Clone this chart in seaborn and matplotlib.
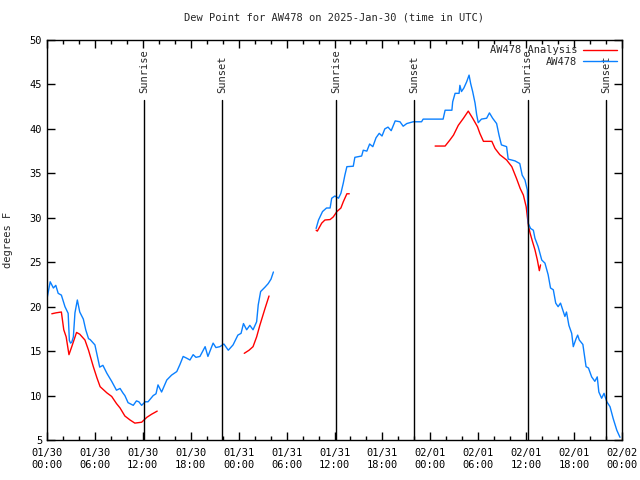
import numpy as np
import pandas as pd
import matplotlib
matplotlib.use("Agg")
import matplotlib.pyplot as plt
import matplotlib.dates as mdates
from matplotlib.lines import Line2D
import seaborn as sns

# ---------------- data (hours since 2025-01-30 00:00 UTC, dew point in F) ----------------
obs_seg1_hours = [0.0, 0.4, 0.8, 1.1, 1.4, 1.8, 2.25, 2.65, 2.8, 2.95, 3.1, 3.3, 3.5, 3.8, 4.1,
                  4.55, 4.85, 5.2, 5.4, 6.0, 6.6, 7.0, 7.5, 8.1, 8.7, 9.15, 9.5, 9.75, 10.15,
                  10.8, 11.2, 11.5, 11.85, 12.3, 12.65, 13.3, 13.65, 13.9, 14.35, 15.0, 15.6,
                  16.25, 16.65, 17.05, 17.5, 17.9, 18.3, 18.65, 19.15, 19.8, 20.15, 20.8,
                  21.15, 21.65, 22.15, 22.7, 23.3, 23.9, 24.3, 24.6, 25.0, 25.4, 25.8, 26.25,
                  26.45, 26.75, 27.3, 27.7, 28.05, 28.35]
obs_seg1_vals = [20.9, 22.8, 22.1, 22.4, 21.5, 21.3, 20.0, 19.25, 16.2, 15.9, 16.0, 16.6, 19.3,
                 20.75, 19.4, 18.6, 17.4, 16.4, 16.3, 15.7, 13.2, 13.4, 12.5, 11.6, 10.6, 10.8,
                 10.3, 10.0, 9.2, 8.9, 9.4, 9.3, 8.9, 9.3, 9.3, 10.0, 10.2, 11.2, 10.4, 11.75,
                 12.3, 12.7, 13.5, 14.4, 14.2, 14.0, 14.6, 14.3, 14.4, 15.5, 14.4, 15.9, 15.4,
                 15.5, 15.8, 15.1, 15.7, 16.8, 17.0, 18.1, 17.4, 17.9, 17.4, 18.3, 20.2, 21.7,
                 22.2, 22.6, 23.1, 23.9]
obs_seg2_hours = [33.7, 34.0, 34.5, 35.0, 35.45, 35.65, 36.05, 36.5, 36.8, 37.1, 37.3, 37.55,
                  38.35, 38.55, 39.4, 39.6, 40.05, 40.4, 40.8, 41.2, 41.6, 41.95, 42.3, 42.7,
                  43.1, 43.6, 44.2, 44.6, 45.05, 45.85, 46.9, 47.1, 49.6, 49.85, 50.7, 50.8,
                  51.1, 51.6, 51.7, 51.9, 52.2, 52.55, 52.85, 53.05, 53.3, 53.6, 53.8, 54.0,
                  54.4, 55.05, 55.4, 55.8, 56.3, 56.6, 56.9, 57.55, 57.75, 58.6, 59.2, 59.5,
                  59.85, 60.15, 60.25, 60.55, 60.9, 61.1, 61.5, 61.95, 62.35, 62.75, 63.05,
                  63.4, 63.7, 64.0, 64.3, 64.85, 65.05, 65.35, 65.7, 65.9, 66.25, 66.45, 66.65,
                  67.1, 67.5, 67.8, 68.2, 68.6, 68.9, 69.1, 69.45, 69.75, 70.1, 70.5, 70.9,
                  71.35, 71.75]
obs_seg2_vals = [28.8, 29.75, 30.7, 31.1, 31.1, 32.2, 32.45, 32.2, 32.75, 33.9, 34.8, 35.75,
                 35.8, 36.8, 36.95, 37.6, 37.5, 38.3, 38.0, 39.0, 39.5, 39.2, 40.0, 40.2, 39.8,
                 40.9, 40.8, 40.3, 40.6, 40.8, 40.8, 41.1, 41.1, 42.1, 42.1, 43.05, 44.0, 44.0,
                 44.9, 44.2, 44.6, 45.3, 46.05, 45.1, 44.2, 42.9, 41.6, 40.7, 41.1, 41.2, 41.8,
                 41.2, 40.6, 39.3, 38.2, 38.0, 36.6, 36.4, 36.1, 34.8, 34.25, 33.1, 29.4, 28.8,
                 28.6, 27.7, 26.75, 25.25, 24.9, 23.6, 22.1, 21.9, 20.4, 20.0, 20.4, 18.9, 19.4,
                 17.9, 17.0, 15.5, 16.4, 16.8, 16.25, 15.75, 13.25, 13.1, 12.1, 11.6, 12.1, 10.4,
                 9.7, 10.25, 9.3, 8.75, 7.4, 6.1, 5.3]

ana_seg1_hours = [0.6, 1.1, 1.8, 2.1, 2.4, 2.75, 3.1, 3.7, 4.1, 4.75, 5.2, 5.8, 6.25, 6.65,
                  7.5, 8.1, 8.7, 9.15, 9.75, 10.4, 11.0, 11.85, 12.5, 13.1, 13.8]
ana_seg1_vals = [19.2, 19.3, 19.4, 17.4, 16.6, 14.6, 15.5, 17.1, 16.9, 16.25, 15.1, 13.25,
                 12.0, 11.0, 10.3, 9.9, 9.1, 8.6, 7.7, 7.25, 6.9, 7.0, 7.55, 7.9, 8.25]
ana_seg2_hours = [24.7, 25.3, 25.8, 26.25, 26.65, 27.3, 27.8]
ana_seg2_vals = [14.75, 15.1, 15.5, 16.6, 17.9, 19.8, 21.2]
ana_seg3_hours = [33.7, 33.85, 34.4, 34.8, 35.45, 35.85, 36.3, 36.8, 37.1, 37.55, 37.85]
ana_seg3_vals = [28.6, 28.5, 29.4, 29.75, 29.8, 30.1, 30.7, 31.1, 31.8, 32.7, 32.7]
ana_seg4_hours = [48.6, 49.85, 50.45, 50.9, 51.5, 52.15, 52.75, 53.3, 53.9, 54.2, 54.65, 55.7,
                  56.1, 56.7, 57.55, 58.2, 58.8, 59.25, 59.65, 60.0, 60.15, 60.3, 60.5, 60.8,
                  61.1, 61.4, 61.65, 61.8]
ana_seg4_vals = [38.07, 38.07, 38.75, 39.3, 40.4, 41.2, 42.0, 41.2, 40.25, 39.5, 38.6, 38.6,
                 37.8, 37.1, 36.5, 35.75, 34.4, 33.3, 32.55, 31.25, 30.1, 29.0, 28.25, 27.3,
                 26.4, 25.25, 24.05, 24.7]

sun_labels = ["Sunrise", "Sunset", "Sunrise", "Sunset", "Sunrise", "Sunset"]
sun_hours = [12.18, 21.97, 36.17, 45.98, 60.17, 70.03]

series_names = ["AW478 Analysis", "AW478"]
series_colors = ["#ff0000", "#0a80ff"]
title_text = "Dew Point for AW478 on 2025-Jan-30 (time in UTC)"
ylabel_text = "degrees F"
y_ticks = [5, 10, 15, 20, 25, 30, 35, 40, 45, 50]

# ---------------- build table ----------------
start = pd.Timestamp("2025-01-30 00:00")
rows = []
def add(name, seg, hrs, vals):
    for h, v in zip(hrs, vals):
        rows.append({"series": name, "seg": f"{name}-{seg}",
                     "time": start + pd.Timedelta(hours=h), "dew": v})
add("AW478 Analysis", 1, ana_seg1_hours, ana_seg1_vals)
add("AW478 Analysis", 2, ana_seg2_hours, ana_seg2_vals)
add("AW478 Analysis", 3, ana_seg3_hours, ana_seg3_vals)
add("AW478 Analysis", 4, ana_seg4_hours, ana_seg4_vals)
add("AW478", 1, obs_seg1_hours, obs_seg1_vals)
add("AW478", 2, obs_seg2_hours, obs_seg2_vals)
df = pd.DataFrame(rows)

# ---------------- plot ----------------
sns.set_style("ticks")
plt.rcParams["font.family"] = ["DejaVu Sans Mono"]
plt.rcParams["font.size"] = 7.5

fig = plt.figure(figsize=(6.4, 4.8), dpi=100)
ax = fig.add_axes([47 / 640, 1 - 440 / 480, 575 / 640, 400 / 480])

for name, col in zip(series_names, series_colors):
    sub = df[df["series"] == name]
    sns.lineplot(data=sub, x="time", y="dew", units="seg", estimator=None,
                 color=col, lw=1.0, ax=ax, legend=False)

ymin, ymax = 5, 50
line_top = 43.3
for lab, h in zip(sun_labels, sun_hours):
    t = start + pd.Timedelta(hours=h)
    ax.axvline(t, ymin=0, ymax=(line_top - ymin) / (ymax - ymin), color="black", lw=1.0)
    ax.text(t, 44.0, lab, rotation=90, ha="center", va="bottom", fontsize=7.5)

ax.set_ylim(ymin, ymax)
ax.set_xlim(start, start + pd.Timedelta(days=3))
ax.set_yticks(y_ticks)
ax.xaxis.set_major_locator(mdates.HourLocator(byhour=[0, 6, 12, 18]))
ax.xaxis.set_minor_locator(mdates.HourLocator(interval=2))
ax.xaxis.set_major_formatter(mdates.DateFormatter("%m/%d\n%H:%M"))
ax.tick_params(axis="both", which="both", direction="in", top=True, right=True,
               labelsize=7.5, colors="black")
ax.tick_params(which="major", length=6, width=1)
ax.tick_params(which="minor", length=3, width=1)
ax.tick_params(axis="x", pad=6)
for s in ax.spines.values():
    s.set_color("black")
    s.set_linewidth(1.0)

ax.set_xlabel("")
ax.set_ylabel(ylabel_text, fontsize=7.5, labelpad=12)
ax.set_title(title_text, fontsize=7.5, pad=14)

handles = [Line2D([], [], color=c, lw=1.0) for c in series_colors]
leg = ax.legend(handles, series_names, loc="upper right", frameon=False, markerfirst=False,
                fontsize=7.5, handlelength=3.2, handletextpad=0.6, borderaxespad=0.1,
                labelspacing=0.15)
for t in leg.get_texts():
    t.set_ha("right")

fig.savefig("out.png", dpi=100)
